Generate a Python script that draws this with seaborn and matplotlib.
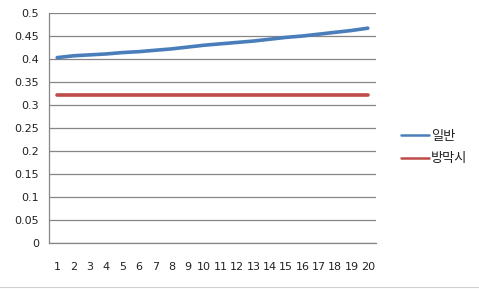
import matplotlib
matplotlib.use("Agg")
import matplotlib.pyplot as plt
import seaborn as sns
import pandas as pd
from matplotlib.lines import Line2D

categories = list(range(1, 21))
normal = [0.403, 0.407, 0.409, 0.411, 0.414, 0.416, 0.419, 0.422, 0.426, 0.430,
          0.433, 0.436, 0.439, 0.443, 0.447, 0.450, 0.454, 0.458, 0.462, 0.467]
membrane = [0.321] * 20
series_names = ["일반", "방막시"]
y_ticks = [0, 0.05, 0.1, 0.15, 0.2, 0.25, 0.3, 0.35, 0.4, 0.45, 0.5]
y_labels = ["0", "0.05", "0.1", "0.15", "0.2", "0.25", "0.3", "0.35", "0.4", "0.45", "0.5"]

df = pd.DataFrame({
    "x": categories * 2,
    "y": normal + membrane,
    "series": [series_names[0]] * 20 + [series_names[1]] * 20,
})

sns.set_style("white")
plt.rcParams["font.family"] = ["DejaVu Sans", "Noto Sans CJK KR"]

fig = plt.figure(figsize=(4.79, 2.89), dpi=100)
ax = fig.add_axes([49/479, 1-243/289, (376-49)/479, (243-13)/289])

sns.lineplot(data=df, x="x", y="y", hue="series",
             palette=["#4A7EBB", "#BE4B48"], linewidth=2.6, ax=ax,
             legend=True)

ax.set_xlim(0.5, 20.5)
ax.set_ylim(0, 0.5)
ax.set_yticks(y_ticks)
ax.set_yticklabels(y_labels, fontsize=8, color="#222222")
ax.set_xticks(categories)
ax.set_xticklabels([str(c) for c in categories], fontsize=8, color="#222222")
ax.set_xticks([c + 0.5 for c in [0] + categories], minor=True)
ax.tick_params(axis="x", which="major", length=0, pad=14)
ax.tick_params(axis="x", which="minor", length=4, color="#868686", direction="out")
ax.tick_params(axis="y", length=4, color="#868686", direction="out", pad=3)
ax.grid(axis="y", color="#868686", linewidth=0.9)
ax.set_axisbelow(True)
for s in ["top", "right"]:
    ax.spines[s].set_visible(False)
for s in ["left", "bottom"]:
    ax.spines[s].set_color("#868686")
    ax.spines[s].set_linewidth(0.9)
ax.set_xlabel("")
ax.set_ylabel("")

leg = ax.legend(loc="center left", bbox_to_anchor=(1.04, 0.415), frameon=False,
                prop={"family": ["Noto Sans CJK KR", "DejaVu Sans"], "size": 9.5},
                handlelength=2.1, handletextpad=0.2, labelspacing=0.75)
for line in leg.get_lines():
    line.set_linewidth(1.8)
for t in leg.get_texts():
    t.set_color("#222222")

fig.add_artist(Line2D([0, 1], [1 - 287/289, 1 - 287/289], transform=fig.transFigure,
                      color="#d0d0d0", linewidth=0.8))

fig.savefig("out.png", dpi=100)
